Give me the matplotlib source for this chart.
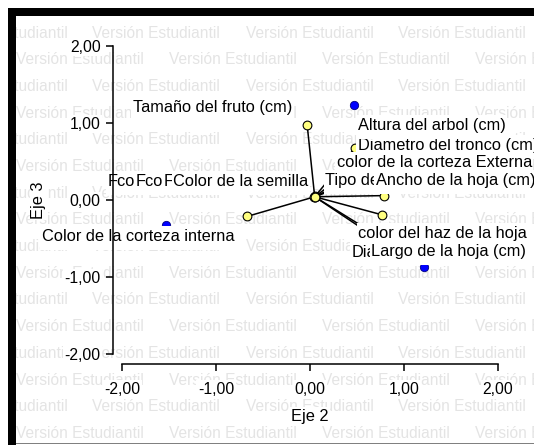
import matplotlib
matplotlib.use("Agg")
import matplotlib.pyplot as plt
from matplotlib.patches import Rectangle

plt.rcParams['font.family'] = ['Liberation Sans', 'DejaVu Sans']

# ---------------- data ----------------
vec_origin = (0.05, 0.04)

var_names = ["Tamaño del fruto (cm)", "Altura del arbol (cm)", "Diametro del tronco (cm)",
             "color de la corteza Externa", "Tipo de", "Ancho de la hoja (cm)",
             "Fco", "Fco", "F", "Color de la semilla",
             "Color de la corteza interna", "color del haz de la hoja",
             "Dia", "Largo de la hoja (cm)"]
var_x = [-0.03, 0.48, 0.37, 0.25, 0.45, 0.785, 0.05, 0.055, 0.045, 0.05, -0.67, 0.77, 0.66, 0.64]
var_y = [0.97, 0.675, 0.23, 0.22, 0.22, 0.055, 0.045, 0.04, 0.04, 0.04, -0.215, -0.195, -0.42, -0.44]

# label anchor (left edge, vertical centre) in data units
lab_x = [-1.887, 0.512, 0.509, 0.285, 0.160, 0.70, -2.153, -1.860, -1.562, -1.457, -2.857, 0.512, 0.440, 0.655]
lab_y = [1.195, 0.961, 0.70, 0.48, 0.247, 0.247, 0.234, 0.234, 0.234, 0.234, -0.477, -0.44, -0.684, -0.675]
lab_order = [0, 2, 1, 3, 4, 5, 6, 7, 8, 9, 10, 11, 12, 13]

obs_x = [0.47, -1.53, 1.22]
obs_y = [1.23, -0.32, -0.865]

ticks = [-2, -1, 0, 1, 2]
tick_labels = ["-2,00", "-1,00", "0,00", "1,00", "2,00"]
xlabel = "Eje 2"
ylabel = "Eje 3"
watermark = "Versión Estudiantil"

W, H = 534, 445
fig = plt.figure(figsize=(W / 100, H / 100), dpi=100)
fig.patch.set_facecolor('white')

# ---------- watermark layer ----------
bg = fig.add_axes([16 / W, (H - 443) / H, (W - 16) / W, (443 - 16) / H])
bg.set_xlim(16, W)
bg.set_ylim(443, 16)
bg.axis('off')
bg.set_zorder(0)
period = 153
for r in range(16):
    yc = 33 + r * 26.7
    off = 16 if r % 2 == 1 else 16 + 76.5 - period
    for k in range(5):
        bg.text(off + k * period, yc, watermark, ha='left', va='center',
                fontsize=11.2, color='#e4e4e4', clip_on=True)

# ---------- main axes ----------
ax = fig.add_axes([122.3 / W, (H - 354) / H, (497.7 - 122.3) / W, (354 - 45.7) / H])
ax.set_zorder(1)
ax.patch.set_visible(False)
ax.set_xlim(-2, 2)
ax.set_ylim(-2, 2)

for i in range(len(var_names)):
    ax.plot([vec_origin[0], var_x[i]], [vec_origin[1], var_y[i]], color='black', lw=1.1,
            zorder=2, solid_capstyle='butt')
ax.plot(var_x, var_y, 'o', ms=6.3, mfc='#ffff80', mec='black', mew=0.8, zorder=3, ls='none')
ax.plot(obs_x, obs_y, 'o', ms=6.0, mfc='#0000ff', mec='#000080', mew=0.6, zorder=3, ls='none')

texts = []
for z, i in enumerate(lab_order):
    t = ax.text(lab_x[i], lab_y[i], var_names[i], ha='left', va='center', fontsize=11.8,
                color='black', zorder=10 + 2 * z + 1, clip_on=False)
    texts.append((z, t))

for s in ['top', 'right']:
    ax.spines[s].set_visible(False)
ax.spines['left'].set_position(('outward', 6.7))
ax.spines['bottom'].set_position(('outward', 7.4))
for s in ['left', 'bottom']:
    ax.spines[s].set_linewidth(1.1)
    ax.spines[s].set_zorder(60)
ax.set_xticks(ticks)
ax.set_yticks(ticks)
ax.set_xticklabels(tick_labels)
ax.set_yticklabels(tick_labels)
ax.tick_params(direction='out', length=4.8, width=1.1, labelsize=11.3)
ax.tick_params(axis='x', pad=7.6)
ax.tick_params(axis='y', pad=4)
for t in ax.get_xticklabels() + ax.get_yticklabels():
    t.set_bbox(dict(boxstyle='square,pad=0.1', fc='white', ec='none'))
ax.set_xlabel(xlabel, fontsize=11.8, labelpad=9,
              bbox=dict(boxstyle='square,pad=0.1', fc='white', ec='none'))
ax.set_ylabel(ylabel, fontsize=11.8, labelpad=13,
              bbox=dict(boxstyle='square,pad=0.1', fc='white', ec='none'))

# white boxes behind the point labels (small horizontal pad, taller below)
fig.canvas.draw()
renderer = fig.canvas.get_renderer()
inv = fig.transFigure.inverted()
for z, t in texts:
    bb = t.get_window_extent(renderer)
    cy = (bb.y0 + bb.y1) / 2
    x0, y0 = inv.transform((bb.x0 - 1.5, cy - 13.5))
    x1, y1 = inv.transform((bb.x1 + 1.5, cy + 11.0))
    ax.add_patch(Rectangle((x0, y0), x1 - x0, y1 - y0, transform=fig.transFigure,
                           fc='white', ec='none', zorder=10 + 2 * z, clip_on=False))

# ---------- window frame ----------
fig.patches.append(Rectangle((8 / W, 0), 8 / W, (H - 8) / H, transform=fig.transFigure,
                             fc='black', ec='none', zorder=50))
fig.patches.append(Rectangle((8 / W, (H - 16) / H), (W - 8) / W, 8 / H, transform=fig.transFigure,
                             fc='black', ec='none', zorder=50))
fig.patches.append(Rectangle((16 / W, (H - 444) / H), (W - 16) / W, 1.5 / H, transform=fig.transFigure,
                             fc='#808080', ec='none', zorder=50))

fig.savefig("out.png", dpi=100, facecolor='white')
